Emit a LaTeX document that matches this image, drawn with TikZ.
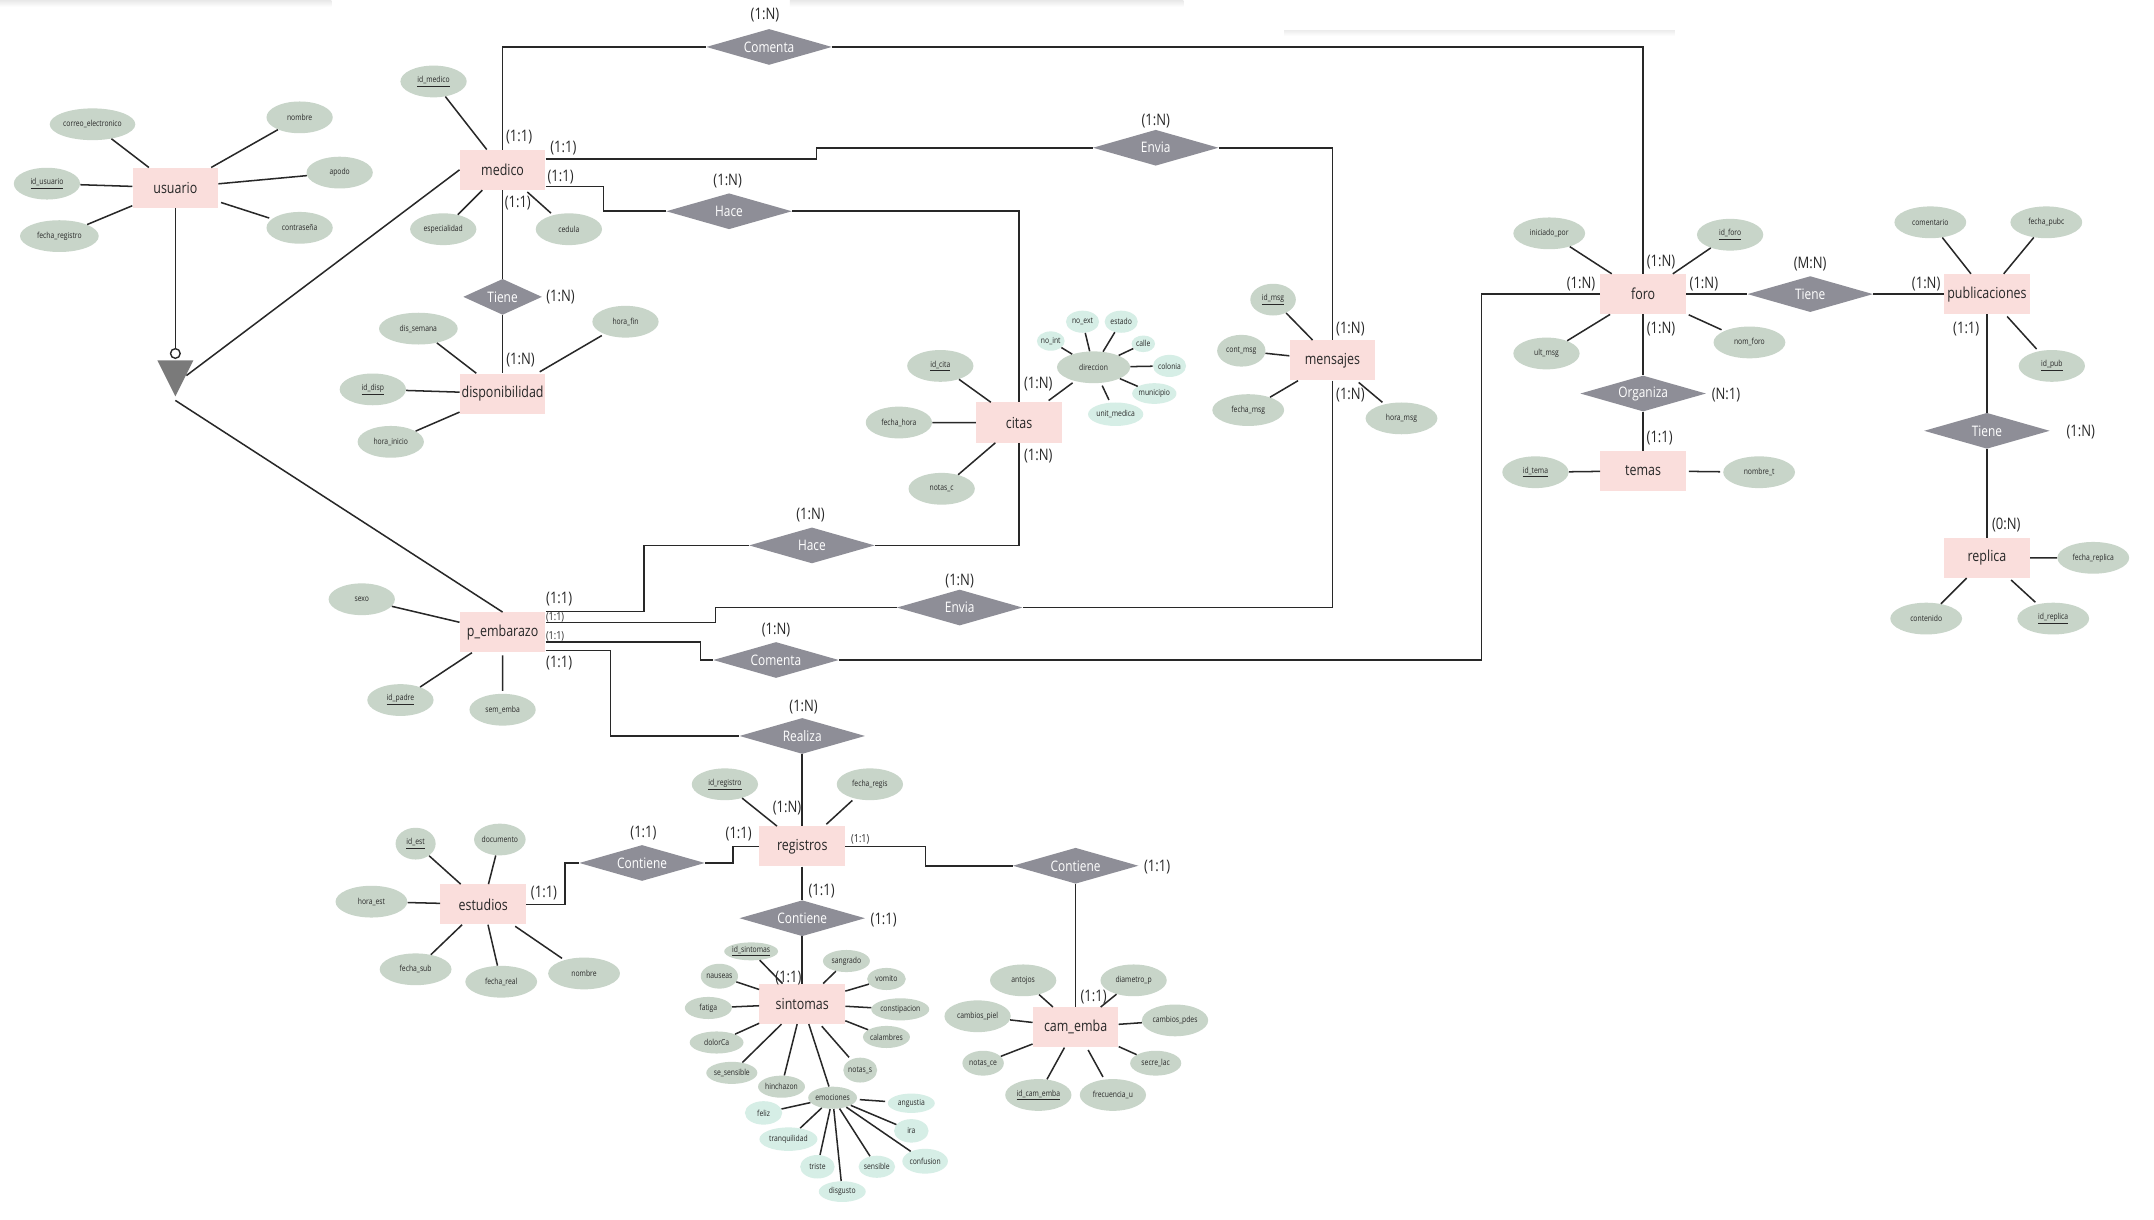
\documentclass[tikz,border=0pt]{standalone}
\usepackage{fontspec}
\setmainfont{Open Sans}[FakeStretch=0.82]
\usetikzlibrary{shapes.geometric}
\definecolor{entpink}{RGB}{250,222,220}
\definecolor{attrgreen}{RGB}{200,213,201}
\definecolor{submint}{RGB}{214,238,230}
\definecolor{relgray}{RGB}{142,142,151}
\definecolor{isagray}{RGB}{122,122,122}
\definecolor{inkdark}{RGB}{40,40,40}
\begin{document}
\begin{tikzpicture}[x=1pt,y=-1pt,
	ent/.style={rectangle,fill=entpink,minimum width=62pt,minimum height=29pt,inner sep=1pt,text=inkdark,font=\fontsize{11}{13}\selectfont},
	rel/.style={diamond,fill=relgray,shape aspect=2.5,minimum width=91pt,minimum height=26pt,inner sep=0pt,text=white,font=\fontsize{10.5}{12}\selectfont},
	attr/.style={ellipse,fill=attrgreen,minimum width=48pt,minimum height=23pt,inner sep=0pt,text=inkdark,font=\fontsize{6}{7}\selectfont},
	attrsm/.style={attr,minimum width=34pt,minimum height=16pt},
	subattr/.style={attr,fill=submint,minimum width=24pt,minimum height=16pt},
	card/.style={inner sep=0pt,text=inkdark,font=\fontsize{11.5}{13}\selectfont},
	cardsm/.style={card,font=\fontsize{8}{9}\selectfont},
	link/.style={draw=inkdark,line width=1.1pt},
	alink/.style={link,shorten <=2pt,shorten >=2pt}]

	\fill[white] (0,0) rectangle (1560,883);
	\useasboundingbox (0,0) rectangle (1560,883);
	\fill[top color=black!9,bottom color=white] (0,0) rectangle (240,5);
	\fill[top color=black!9,bottom color=white] (572,0) rectangle (857,5);
	\fill[top color=black!7,bottom color=white] (930,22) rectangle (1213,26);

	\node[ent] (usr) at (127,136) {usuario};
	\node[ent] (med) at (364,123) {medico};
	\node[ent] (disp) at (364,285) {disponibilidad};
	\node[ent] (cit) at (738,306) {citas};
	\node[ent] (msg) at (965,261) {mensajes};
	\node[ent] (foro) at (1190,213) {foro};
	\node[ent] (pub) at (1439,213) {publicaciones};
	\node[ent] (tem) at (1190,341) {temas};
	\node[ent] (rep) at (1439,404) {replica};
	\node[ent] (pemb) at (364,458) {p\_embarazo};
	\node[ent] (reg) at (581,613) {registros};
	\node[ent] (est) at (350,655) {estudios};
	\node[ent] (sin) at (581,727) {sintomas};
	\node[ent] (cam) at (779,744) {cam\_emba};

	\node[rel] (com0) at (557,34) {Comenta};
	\node[rel] (env0) at (837,107) {Envia};
	\node[rel] (hace0) at (528,153) {Hace};
	\node[rel,minimum width=57pt] (tiene0) at (364,215) {Tiene};
	\node[rel] (hace1) at (588,395) {Hace};
	\node[rel] (env1) at (695,440) {Envia};
	\node[rel] (com1) at (562,478) {Comenta};
	\node[rel] (real) at (581,533) {Realiza};
	\node[rel] (cont0) at (465,625) {Contiene};
	\node[rel] (cont1) at (581,665) {Contiene};
	\node[rel] (cont2) at (779,627) {Contiene};
	\node[rel] (tiene1) at (1311,213) {Tiene};
	\node[rel] (org) at (1190,285) {Organiza};
	\node[rel] (tiene2) at (1439,312) {Tiene};

	\draw[link] (med.north) |- (com0.west);
	\draw[link] (com0.east) -| (foro.north);
	\draw[link] ([shift={(0,-8)}]med.east) -- ++(196,0) |- (env0.west);
	\draw[link] (env0.east) -| (msg.north);
	\draw[link] ([shift={(0,12)}]med.east) -- ++(42,0) |- (hace0.west);
	\draw[link] (hace0.east) -| (cit.north);
	\draw[link] (med.south) -- (tiene0.north);
	\draw[link] (tiene0.south) -- (disp.north);
	\draw[link] (cit.south) |- (hace1.east);
	\draw[link] (hace1.west) -- ++(-76,0) |- ([shift={(0,-15)}]pemb.east);
	\draw[link] (msg.south) |- (env1.east);
	\draw[link] (env1.west) -- ++(-131,0) |- ([shift={(0,-7)}]pemb.east);
	\draw[link] ([shift={(0,7)}]pemb.east) -- ++(112,0) |- (com1.west);
	\draw[link] (foro.west) -- ++(-86,0) |- (com1.east);
	\draw[link] ([shift={(0,13)}]pemb.east) -- ++(47,0) |- (real.west);
	\draw[link] (real.south) -- (reg.north);
	\draw[link] (reg.west) -- ++(-19,0) |- (cont0.east);
	\draw[link] (cont0.west) -- ++(-10,0) |- (est.east);
	\draw[link] (reg.east) -- ++(58,0) |- (cont2.west);
	\draw[link] (cont2.south) -- (cam.north);
	\draw[link] (reg.south) -- (cont1.north);
	\draw[link] (cont1.south) -- (sin.north);
	\draw[link] (foro.east) -- (tiene1.west);
	\draw[link] (tiene1.east) -- (pub.west);
	\draw[link] (foro.south) -- (org.north);
	\draw[link] (org.south) -- (tem.north);
	\draw[link] (pub.south) -- (tiene2.north);
	\draw[link] (tiene2.south) -- (rep.north);

	\node[circle,draw=inkdark,line width=1pt,fill=white,minimum size=7pt,inner sep=0pt] (isa_c) at (127,256) {};
	\fill[isagray] (114,261) -- (140,261) -- (127,287) -- cycle;
	\coordinate (isa_r) at (135,272);
	\coordinate (isa_b) at (127,290);
	\draw[link] (usr.south) -- (isa_c.north);
	\draw[link] (isa_r) -- (med.west);
	\draw[link] (isa_b) -- (pemb.north);

	\node[attr,minimum width=62pt] (usr_correo) at (67,90) {correo\_electronico};
	\node[attr] (usr_id) at (34,133) {\underline{id\_usuario}};
	\node[attr,minimum width=57pt] (usr_fecha) at (43,171) {fecha\_registro};
	\node[attr] (usr_nombre) at (217,85) {nombre};
	\node[attr] (usr_apodo) at (246,125) {apodo};
	\node[attr] (usr_pass) at (217,165) {contraseña};
	\draw[alink] (usr) -- (usr_correo) (usr) -- (usr_id) (usr) -- (usr_fecha) (usr) -- (usr_nombre) (usr) -- (usr_apodo) (usr) -- (usr_pass);

	\node[attr] (med_id) at (314,59) {\underline{id\_medico}};
	\node[attr] (med_esp) at (321,166) {especialidad};
	\node[attr] (med_ced) at (412,166) {cedula};
	\draw[alink] (med) -- (med_id) (med) -- (med_esp) (med) -- (med_ced);

	\node[attr,minimum width=57pt] (disp_dia) at (303,238) {dis\_semana};
	\node[attr] (disp_id) at (270,282) {\underline{id\_disp}};
	\node[attr] (disp_ini) at (283,320) {hora\_inicio};
	\node[attr] (disp_fin) at (453,233) {hora\_fin};
	\draw[alink] (disp) -- (disp_dia) (disp) -- (disp_id) (disp) -- (disp_ini) (disp) -- (disp_fin);

	\node[attr] (cit_id) at (681,265) {\underline{id\_cita}};
	\node[attr] (cit_fecha) at (651,306) {fecha\_hora};
	\node[attr] (cit_notas) at (682,354) {notas\_c};
	\node[attr,minimum width=53pt] (cit_dir) at (792,266) {direccion};
	\draw[alink] (cit) -- (cit_id) (cit) -- (cit_fecha) (cit) -- (cit_notas) (cit) -- (cit_dir);
	\node[subattr,minimum width=19pt,minimum height=14pt] (dir_noint) at (761,247) {no\_int};
	\node[subattr] (dir_noext) at (784,233) {no\_ext};
	\node[subattr] (dir_edo) at (812,233) {estado};
	\node[subattr,minimum width=17pt,minimum height=12pt] (dir_calle) at (828,249) {calle};
	\node[subattr] (dir_col) at (847,265) {colonia};
	\node[subattr,minimum width=31pt,minimum height=15pt] (dir_mun) at (836,285) {municipio};
	\node[subattr,minimum width=40pt,minimum height=17pt] (dir_unit) at (808,300) {unit\_medica};
	\draw[alink] (cit_dir) -- (dir_noint) (cit_dir) -- (dir_noext) (cit_dir) -- (dir_edo) (cit_dir) -- (dir_calle) (cit_dir) -- (dir_col) (cit_dir) -- (dir_mun) (cit_dir) -- (dir_unit);

	\node[attr,minimum width=33pt] (msg_id) at (922,217) {\underline{id\_msg}};
	\node[attr,minimum width=35pt] (msg_cont) at (899,254) {cont\_msg};
	\node[attr,minimum width=52pt] (msg_fecha) at (904,297) {fecha\_msg};
	\node[attr,minimum width=52pt] (msg_hora) at (1015,303) {hora\_msg};
	\draw[alink] (msg) -- (msg_id) (msg) -- (msg_cont) (msg) -- (msg_fecha) (msg) -- (msg_hora);

	\node[attr,minimum width=52pt] (foro_ini) at (1122,169) {iniciado\_por};
	\node[attr] (foro_id) at (1253,170) {\underline{id\_foro}};
	\node[attr] (foro_ult) at (1120,256) {ult\_msg};
	\node[attr,minimum width=52pt] (foro_nom) at (1267,248) {nom\_foro};
	\draw[alink] (foro) -- (foro_ini) (foro) -- (foro_id) (foro) -- (foro_ult) (foro) -- (foro_nom);

	\node[attr,minimum width=52pt] (pub_com) at (1398,161) {comentario};
	\node[attr,minimum width=52pt] (pub_fecha) at (1482,161) {fecha\_pubc};
	\node[attr] (pub_id) at (1486,265) {\underline{id\_pub}};
	\draw[alink] (pub) -- (pub_com) (pub) -- (pub_fecha) (pub) -- (pub_id);

	\node[attr] (tem_id) at (1112,342) {\underline{id\_tema}};
	\node[attr,minimum width=52pt] (tem_nom) at (1274,342) {nombre\_t};
	\draw[alink] (tem) -- (tem_id) (tem) -- (tem_nom);

	\node[attr,minimum width=52pt] (rep_fecha) at (1516,404) {fecha\_replica};
	\node[attr,minimum width=52pt] (rep_cont) at (1395,448) {contenido};
	\node[attr,minimum width=52pt] (rep_id) at (1487,448) {\underline{id\_replica}};
	\draw[alink] (rep) -- (rep_fecha) (rep) -- (rep_cont) (rep) -- (rep_id);

	\node[attr] (pemb_sexo) at (262,434) {sexo};
	\node[attr] (pemb_id) at (290,507) {\underline{id\_padre}};
	\node[attr] (pemb_sem) at (364,514) {sem\_emba};
	\draw[alink] (pemb) -- (pemb_sexo) (pemb) -- (pemb_id) (pemb) -- (pemb_sem);

	\node[attr] (reg_id) at (525,568) {\underline{id\_registro}};
	\node[attr] (reg_fecha) at (630,568) {fecha\_regis};
	\draw[alink] (reg) -- (reg_id) (reg) -- (reg_fecha);

	\node[attr,minimum width=29pt] (est_id) at (301,611) {\underline{id\_est}};
	\node[attr,minimum width=37pt] (est_doc) at (362,608) {documento};
	\node[attr,minimum width=52pt] (est_hora) at (269,653) {hora\_est};
	\node[attr,minimum width=52pt] (est_fsub) at (301,702) {fecha\_sub};
	\node[attr,minimum width=52pt] (est_freal) at (363,711) {fecha\_real};
	\node[attr,minimum width=52pt] (est_nom) at (423,705) {nombre};
	\draw[alink] (est) -- (est_id) (est) -- (est_doc) (est) -- (est_hora) (est) -- (est_fsub) (est) -- (est_freal) (est) -- (est_nom);

	\node[attrsm,minimum width=39pt,minimum height=13pt] (sin_id) at (544,689) {\underline{id\_sintomas}};
	\node[attrsm,minimum width=27pt,minimum height=18pt] (sin_nau) at (521,707) {nauseas};
	\node[attrsm] (sin_fat) at (513,730) {fatiga};
	\node[attrsm,minimum width=39pt] (sin_dol) at (519,755) {dolorCa};
	\node[attrsm,minimum width=37pt] (sin_sens) at (530,777) {se\_sensible};
	\node[attrsm] (sin_hin) at (566,787) {hinchazon};
	\node[attrsm] (sin_emo) at (603,795) {emociones};
	\node[attrsm] (sin_sang) at (613,696) {sangrado};
	\node[attrsm,minimum width=28pt] (sin_vom) at (642,709) {vomito};
	\node[attrsm,minimum width=42pt] (sin_cons) at (652,731) {constipacion};
	\node[attrsm] (sin_cal) at (642,751) {calambres};
	\node[attrsm,minimum width=22pt,minimum height=18pt] (sin_not) at (623,775) {notas\_s};
	\draw[alink] (sin) -- (sin_id) (sin) -- (sin_nau) (sin) -- (sin_fat) (sin) -- (sin_dol) (sin) -- (sin_sens) (sin) -- (sin_hin) (sin) -- (sin_emo) (sin) -- (sin_sang) (sin) -- (sin_vom) (sin) -- (sin_cons) (sin) -- (sin_cal) (sin) -- (sin_not);
	\node[subattr,minimum width=27pt,minimum height=17pt] (emo_feliz) at (553,806) {feliz};
	\node[subattr,minimum width=42pt,minimum height=17pt] (emo_tranq) at (571,825) {tranquilidad};
	\node[subattr,minimum width=25pt,minimum height=17pt] (emo_triste) at (592,845) {triste};
	\node[subattr,minimum width=34pt,minimum height=15pt] (emo_disg) at (610,863) {disgusto};
	\node[subattr,minimum width=25pt,minimum height=16pt] (emo_sens) at (635,845) {sensible};
	\node[subattr,minimum width=33pt,minimum height=18pt] (emo_conf) at (670,841) {confusion};
	\node[subattr,minimum width=25pt,minimum height=17pt] (emo_ira) at (660,819) {ira};
	\node[subattr,minimum width=34pt,minimum height=14pt] (emo_ang) at (660,799) {angustia};
	\draw[alink] (sin_emo) -- (emo_feliz) (sin_emo) -- (emo_tranq) (sin_emo) -- (emo_triste) (sin_emo) -- (emo_disg) (sin_emo) -- (emo_sens) (sin_emo) -- (emo_conf) (sin_emo) -- (emo_ira) (sin_emo) -- (emo_ang);

	\node[attr] (cam_ant) at (741,710) {antojos};
	\node[attr] (cam_dia) at (821,710) {diametro\_p};
	\node[attr] (cam_piel) at (708,736) {cambios\_piel};
	\node[attr] (cam_pdes) at (851,739) {cambios\_pdes};
	\node[attr,minimum width=30pt,minimum height=18pt] (cam_not) at (712,770) {notas\_ce};
	\node[attr,minimum width=37pt,minimum height=18pt] (cam_sec) at (837,770) {secre\_lac};
	\node[attr] (cam_id) at (752,793) {\underline{id\_cam\_emba}};
	\node[attr] (cam_frec) at (806,793) {frecuencia\_u};
	\draw[alink] (cam) -- (cam_ant) (cam) -- (cam_dia) (cam) -- (cam_piel) (cam) -- (cam_pdes) (cam) -- (cam_not) (cam) -- (cam_sec) (cam) -- (cam_id) (cam) -- (cam_frec);

	\node[card] (k_com0) at (554,11) {(1:N)};
	\node[card] (k_med_t) at (376,99) {(1:1)};
	\node[card] (k_med_env) at (408,107) {(1:1)};
	\node[card] (k_env0) at (837,88) {(1:N)};
	\node[card] (k_med_hace) at (406,128) {(1:1)};
	\node[card] (k_hace0) at (527,131) {(1:N)};
	\node[card] (k_med_b) at (375,147) {(1:1)};
	\node[card] (k_tiene0) at (406,215) {(1:N)};
	\node[card] (k_disp) at (377,261) {(1:N)};
	\node[card] (k_cit_t) at (752,278) {(1:N)};
	\node[card] (k_cit_b) at (752,330) {(1:N)};
	\node[card] (k_msg_t) at (978,238) {(1:N)};
	\node[card] (k_msg_b) at (978,286) {(1:N)};
	\node[card] (k_hace1) at (587,373) {(1:N)};
	\node[card] (k_pemb_hace) at (405,434) {(1:1)};
	\node[cardsm] (k_pemb_env) at (402,447) {(1:1)};
	\node[cardsm] (k_pemb_com) at (402,461) {(1:1)};
	\node[card] (k_pemb_real) at (405,480) {(1:1)};
	\node[card] (k_env1) at (695,421) {(1:N)};
	\node[card] (k_com1) at (562,456) {(1:N)};
	\node[card] (k_real) at (582,512) {(1:N)};
	\node[card] (k_reg_t) at (570,585) {(1:N)};
	\node[card] (k_reg_l) at (535,604) {(1:1)};
	\node[cardsm] (k_reg_r) at (623,608) {(1:1)};
	\node[card] (k_cont0) at (466,603) {(1:1)};
	\node[card] (k_est) at (394,647) {(1:1)};
	\node[card] (k_reg_b) at (595,645) {(1:1)};
	\node[card] (k_cont1) at (640,666) {(1:1)};
	\node[card] (k_sin) at (571,708) {(1:1)};
	\node[card] (k_cont2) at (838,628) {(1:1)};
	\node[card] (k_cam) at (792,722) {(1:1)};
	\node[card] (k_foro_t) at (1203,190) {(1:N)};
	\node[card] (k_foro_l) at (1145,206) {(1:N)};
	\node[card] (k_foro_r) at (1234,206) {(1:N)};
	\node[card] (k_foro_b) at (1203,238) {(1:N)};
	\node[card] (k_tiene1) at (1311,191) {(M:N)};
	\node[card] (k_pub_l) at (1395,206) {(1:N)};
	\node[card] (k_pub_b) at (1424,238) {(1:1)};
	\node[card] (k_tiene2) at (1507,313) {(1:N)};
	\node[card] (k_rep) at (1453,380) {(0:N)};
	\node[card] (k_org) at (1250,286) {(N:1)};
	\node[card] (k_tem) at (1202,317) {(1:1)};
\end{tikzpicture}
\end{document}
